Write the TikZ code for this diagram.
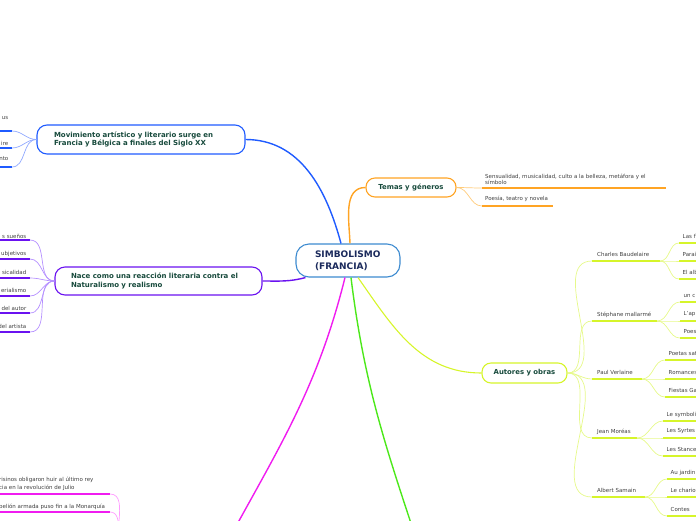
\documentclass[tikz,border=0pt]{standalone}
\usepackage{fontspec}
\setmainfont{DejaVu Sans}
\definecolor{RootBlue}{HTML}{3D8BD0}
\definecolor{RootText}{HTML}{1B2A5C}
\definecolor{NodeText}{HTML}{174A3C}
\definecolor{LeafText}{HTML}{404040}
\definecolor{MovBlue}{HTML}{1F5BFF}
\definecolor{MovLight}{HTML}{8FA8FF}
\definecolor{NacePurple}{HTML}{6A12F0}
\definecolor{NaceLight}{HTML}{B590FF}
\definecolor{HistMagenta}{HTML}{F01CF0}
\definecolor{HistLight}{HTML}{FF9CFF}
\definecolor{ExtraGreen}{HTML}{4CE81A}
\definecolor{TemaOrange}{HTML}{FFA424}
\definecolor{TemaLight}{HTML}{FFCB7A}
\definecolor{AutorLime}{HTML}{D6F52A}
\definecolor{AutorLight}{HTML}{E6F98A}
\usepackage{tikz}
\usetikzlibrary{positioning,calc}

\tikzset{
  topic/.style={draw, rounded corners=10pt, fill=white, line width=1.1pt,
    text=NodeText, font=\fontsize{7}{8.6}\selectfont\bfseries, inner ysep=0pt},
  leaftext/.style={anchor=west, inner sep=0pt, text=LeafText,
    font=\fontsize{5.5}{6.5}\selectfont, align=left},
  underline/.style={line width=1.6pt},
  twig/.style={line width=0.7pt},
  branch/.style={line width=1.4pt},
}

\begin{document}
\begin{tikzpicture}[x=1pt, y=-1pt]
  \useasboundingbox (0,0) rectangle (696,520);
  \clip (0,0) rectangle (696,520);

  % root
  \node[draw=RootBlue, fill=white, rounded corners=13pt, line width=1.1pt,
        text width=66pt, inner xsep=19pt, minimum height=33pt, align=left,
        text=RootText, font=\fontsize{9}{11.5}\selectfont\bfseries]
        (root) at (348,260.5) {SIMBOLISMO\\(FRANCIA)};

  % main topics
  \node[topic, draw=MovBlue, text width=174pt, inner xsep=17pt, minimum height=29pt, align=left]
        (mov) at (141,139.5) {Movimiento artístico y literario surge en\\Francia y Bélgica a finales del Siglo XX};
  \node[topic, draw=NacePurple, text width=175pt, inner xsep=16pt, minimum height=28pt, align=left]
        (nace) at (158.5,281) {Nace como una reacción literaria contra el\\Naturalismo y realismo};
  \node[topic, draw=TemaOrange, minimum width=90pt, minimum height=19pt, rounded corners=9pt,
        font=\fontsize{6.9}{8}\selectfont\bfseries]
        (temas) at (411,187.5) {Temas y géneros};
  \node[topic, draw=AutorLime, minimum width=85pt, minimum height=20pt, rounded corners=9pt,
        font=\fontsize{6.9}{8}\selectfont\bfseries]
        (autores) at (524.5,373) {Autores y obras};
  \coordinate (hist) at (215,565);
  \coordinate (histw) at (128,548);
  \coordinate (extra) at (428,575);

  % branches from the root
  \draw[branch, MovBlue] ($(root.north)+(-7,0)$) to[out=105,in=0] (mov.east);
  \draw[branch, TemaOrange] ($(root.north)+(2,0)$) to[out=92,in=180] (temas.west);
  \draw[branch, NacePurple] ($(root.south west)+(10,0)$) to[out=195,in=0] (nace.east);
  \draw[branch, HistMagenta] ($(root.south)+(-3,0)$) to[out=-104,in=62] (hist);
  \draw[branch, ExtraGreen] ($(root.south)+(3,0)$) to[out=-83,in=108] (extra);
  \draw[line width=1.1pt, AutorLime] ($(root.south)+(10,0)$) to[out=-55,in=180] (autores.west);

  % blue leaves
  \foreach \i/\y/\ty/\txt in {1/131/118/us, 2/148/143/ire, 3/167/159/nto}{
    \coordinate (mov\i) at (12,\y);
    \draw[underline, MovBlue] (-20,\y) -- (mov\i);
    \node[leaftext, anchor=east] at (8.5,\ty) {\txt};
    \draw[twig, MovLight] (mov\i) to[out=0,in=180] (mov.west);
  }

  % purple leaves
  \foreach \i/\y/\ty/\txt in {1/240/236/s sueños, 2/259/254/ubjetivos, 3/278/272/sicalidad,
                              4/296/290/erialismo, 5/313/308/del autor, 6/332/326/del artista}{
    \coordinate (nace\i) at (30,\y);
    \draw[underline, NacePurple] (-20,\y) -- (nace\i);
    \node[leaftext, anchor=east] at (26.5,\ty) {\txt};
    \draw[twig, NaceLight] (nace\i) to[out=0,in=180] (nace.west);
  }

  % magenta leaves
  \coordinate (hist1) at (110,494);
  \coordinate (hist2) at (110,512);
  \draw[underline, HistMagenta] (-20,494) -- (hist1);
  \draw[underline, HistMagenta] (-20,512) -- (hist2);
  \node[leaftext, font=\fontsize{5.5}{8}\selectfont] at (-1,484)
        {risinos obligaron huir al último rey\\cia en la revolución de Julio};
  \node[leaftext] at (-1,507) {belión armada puso fin a la Monarquía};
  \draw[twig, HistLight] (hist1) to[out=0,in=180] (histw);
  \draw[twig, HistLight] (hist2) to[out=0,in=180] (histw);

  % orange leaves
  \coordinate (tema1) at (482,188);
  \coordinate (tema2) at (482,206);
  \draw[underline, TemaOrange] (tema1) -- (666,188);
  \draw[underline, TemaOrange] (tema2) -- (553,206);
  \node[leaftext, font=\fontsize{5.5}{6}\selectfont] at (485,179)
        {Sensualidad, musicalidad, culto a la belleza, metáfora y el\\símbolo};
  \node[leaftext] at (485,199) {Poesía, teatro y novela};
  \draw[twig, TemaLight] (temas.east) to[out=0,in=180] (tema1);
  \draw[twig, TemaLight] (temas.east) to[out=0,in=180] (tema2);

  % authors
  \foreach \au/\xr/\y/\name in {baud/660/261/Charles Baudelaire, mall/657/321/Stéphane mallarmé,
                                verl/642/379/Paul Verlaine, more/637/438/Jean Moréas,
                                sama/645/497/Albert Samain}{
    \coordinate (\au-l) at (592,\y);
    \coordinate (\au-r) at (\xr,\y);
    \draw[underline, AutorLime] (\au-l) -- (\au-r);
    \node[leaftext] at (597,\y-6.5) {\name};
    \draw[twig, AutorLight] (autores.east) to[out=0,in=180] (\au-l);
  }

  % works
  \foreach \au/\i/\x/\y/\txt in {baud/1/679/243/Las f, baud/2/679/261/Paraí, baud/3/679/279/El alb,
                                 mall/1/680/302/un c, mall/2/680/321/L'ap, mall/3/680/338/Poes,
                                 verl/1/665/360/Poetas satu, verl/2/665/379/Romances, verl/3/665/397/Fiestas Gal,
                                 more/1/663/421/Le symbolis, more/2/663/438/Les Syrtes, more/3/663/456/Les Stances,
                                 sama/1/667/479/Au jardin, sama/2/667/497/Le chariot, sama/3/667/516/Contes}{
    \coordinate (\au-w\i) at (\x,\y);
    \draw[underline, AutorLime] (\au-w\i) -- (710,\y);
    \node[leaftext] at (\x+3.5,\y-6.5) {\txt};
    \draw[twig, AutorLight] (\au-r) to[out=0,in=180] (\au-w\i);
  }
\end{tikzpicture}
\end{document}
